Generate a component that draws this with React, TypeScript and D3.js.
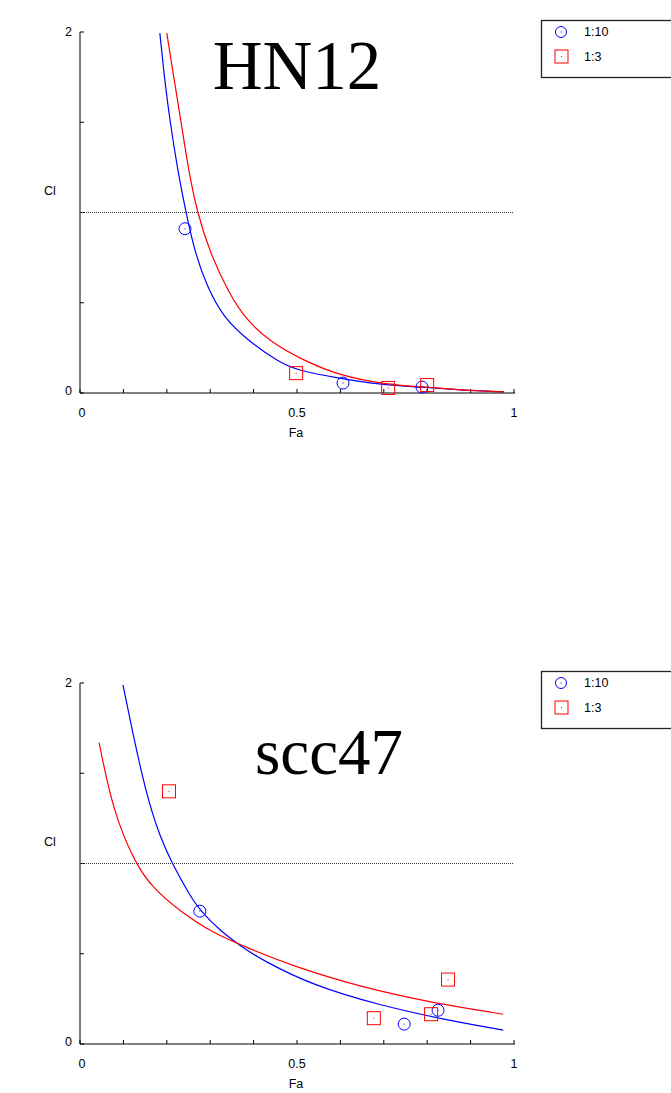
import React from 'react';
import * as d3 from 'd3';

// Fa / CI readings for the two cell lines
const hnBlueCurve: [number, number][] = [
  [0.184, 1.994], [0.195, 1.734], [0.207, 1.512], [0.225, 1.235], [0.244, 1.0],
  [0.265, 0.776], [0.293, 0.587], [0.33, 0.421], [0.385, 0.294], [0.461, 0.166],
  [0.5, 0.127], [0.592, 0.083], [0.698, 0.044], [0.788, 0.033], [0.876, 0.017], [0.977, 0.006],
];
const hnRedCurve: [number, number][] = [
  [0.2, 1.994], [0.217, 1.734], [0.233, 1.501], [0.25, 1.235], [0.27, 1.0],
  [0.3, 0.773], [0.343, 0.554], [0.383, 0.404], [0.442, 0.277], [0.514, 0.183],
  [0.592, 0.1], [0.71, 0.044], [0.8, 0.033], [0.876, 0.017], [0.977, 0.006],
];
const hnBluePoints: [number, number][] = [[0.242, 0.91], [0.606, 0.055], [0.788, 0.033]];
const hnRedPoints: [number, number][] = [[0.498, 0.11], [0.71, 0.028], [0.8, 0.044]];

const sccBlueCurve: [number, number][] = [
  [0.099, 1.99], [0.12, 1.74], [0.154, 1.37], [0.184, 1.15], [0.212, 1.0],
  [0.253, 0.824], [0.276, 0.742], [0.323, 0.626], [0.376, 0.533], [0.422, 0.462],
  [0.537, 0.324], [0.691, 0.214], [0.846, 0.132], [0.975, 0.077],
];
const sccRedCurve: [number, number][] = [
  [0.044, 1.67], [0.076, 1.29], [0.127, 1.0], [0.168, 0.863], [0.23, 0.736],
  [0.306, 0.615], [0.385, 0.533], [0.5, 0.423], [0.652, 0.313], [0.806, 0.231],
  [0.975, 0.165],
];
const sccBluePoints: [number, number][] = [[0.276, 0.736], [0.747, 0.11], [0.825, 0.187]];
const sccRedPoints: [number, number][] = [[0.205, 1.4], [0.677, 0.143], [0.809, 0.165], [0.848, 0.357]];

const seriesNames = ['1:10', '1:3'];
const xTicks = d3.range(0, 1.0001, 0.1);
const yTicks = [0, 0.5, 1, 1.5, 2];

const BLUE = '#0000ff';
const RED = '#ff0000';

type Props = {
  top: number;
  title: string;
  titleX: number;
  titleY: number;
  titleSize: number;
  blueCurve: [number, number][];
  redCurve: [number, number][];
  bluePts: [number, number][];
  redPts: [number, number][];
};

const Panel = ({ top, title, titleX, titleY, titleSize, blueCurve, redCurve, bluePts, redPts }: Props) => {
  const x = d3.scaleLinear().domain([0, 1]).range([80, 514]);
  const y = d3.scaleLinear().domain([0, 2]).range([top + 361, top]);
  // readings are a bit noisy, so smooth them with a b-spline
  const line = d3.line<[number, number]>()
    .x(d => x(d[0]))
    .y(d => y(d[1]))
    .curve(d3.curveBasis);
  const font = 'Liberation Sans, Arial, sans-serif';
  const legTop = top - 12;

  return (
    <g>
      {/* axes */}
      <line x1={80} x2={80} y1={y(2)} y2={y(0)} stroke="#000" />
      <line x1={80} x2={515} y1={y(0)} y2={y(0)} stroke="#000" />
      {yTicks.map(t => (
        <line key={'y' + t} x1={80} x2={84} y1={y(t)} y2={y(t)} stroke="#000" />
      ))}
      {xTicks.map(t => (
        <line key={'x' + t} x1={x(t)} x2={x(t)} y1={y(0)} y2={y(0) - 4} stroke="#000" />
      ))}
      <text x={72} y={y(2) + 4} fontSize={12.5} fontFamily={font} textAnchor="end">2</text>
      <text x={72} y={y(0) + 2} fontSize={12.5} fontFamily={font} textAnchor="end">0</text>
      {[0, 0.5, 1].map(t => (
        <text key={'xl' + t} x={x(t) + (t === 0 ? 2 : 0)} y={y(0) + 24} fontSize={12.5}
              fontFamily={font} textAnchor="middle">{t}</text>
      ))}
      <text x={50} y={y(1) - 18} fontSize={12.5} fontFamily={font} textAnchor="middle">Cl</text>
      <text x={296} y={y(0) + 44} fontSize={12.5} fontFamily={font} textAnchor="middle">Fa</text>

      {/* CI = 1 reference */}
      <line x1={80} x2={514} y1={y(1)} y2={y(1)} stroke="#333" strokeDasharray="1,1" />

      {/* fitted curves */}
      <path d={line(blueCurve) || ''} fill="none" stroke={BLUE} strokeWidth={1.2} />
      <path d={line(redCurve) || ''} fill="none" stroke={RED} strokeWidth={1.2} />

      {/* observed points */}
      {bluePts.map((d, i) => (
        <g key={'b' + i}>
          <circle cx={x(d[0])} cy={y(d[1])} r={6} fill="none" stroke={BLUE} />
          <rect x={x(d[0]) - 0.5} y={y(d[1]) - 0.5} width={1} height={1} fill={BLUE} />
        </g>
      ))}
      {redPts.map((d, i) => (
        <g key={'r' + i}>
          <rect x={x(d[0]) - 6.5} y={y(d[1]) - 6.5} width={13} height={13} fill="none" stroke={RED} />
          <rect x={x(d[0]) - 0.5} y={y(d[1]) - 0.5} width={1} height={1} fill={RED} />
        </g>
      ))}

      {/* title */}
      <text x={titleX} y={titleY} fontSize={titleSize} fontFamily="Liberation Serif, Times New Roman, serif"
            textAnchor="middle">{title}</text>

      {/* legend */}
      <rect x={541.5} y={legTop + 0.5} width={140} height={57} fill="#fff" stroke="#222" strokeWidth={1.3} />
      <circle cx={561} cy={legTop + 12} r={5.5} fill="none" stroke={BLUE} />
      <rect x={560.5} y={legTop + 11.5} width={1} height={1} fill={BLUE} />
      <text x={584} y={legTop + 16} fontSize={12.5} fontFamily={font}>{seriesNames[0]}</text>
      <rect x={555} y={legTop + 30} width={13} height={13} fill="none" stroke={RED} />
      <rect x={561} y={legTop + 36} width={1} height={1} fill={RED} />
      <text x={584} y={legTop + 41} fontSize={12.5} fontFamily={font}>{seriesNames[1]}</text>
    </g>
  );
};

export default function App() {
  return (
    <svg width={671} height={1093} style={{ position: 'absolute', left: 0, top: 0, background: '#fff' }}>
      <Panel top={32} title="HN12" titleX={297} titleY={89} titleSize={69}
             blueCurve={hnBlueCurve} redCurve={hnRedCurve} bluePts={hnBluePoints} redPts={hnRedPoints} />
      <Panel top={683} title="scc47" titleX={329} titleY={774} titleSize={65}
             blueCurve={sccBlueCurve} redCurve={sccRedCurve} bluePts={sccBluePoints} redPts={sccRedPoints} />
    </svg>
  );
}
